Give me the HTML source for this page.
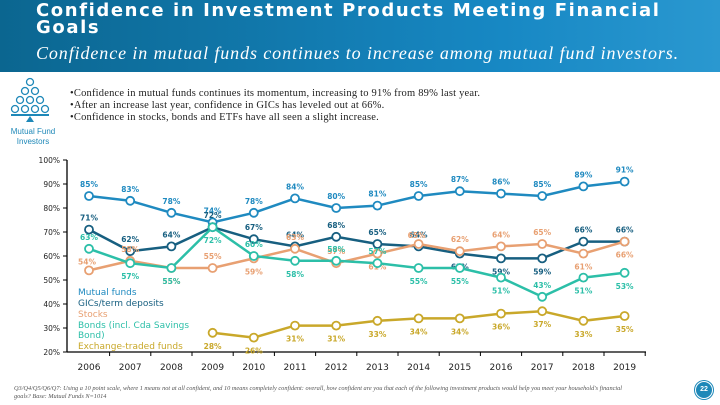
<!DOCTYPE html>
<html><head><meta charset="utf-8"><style>
body{margin:0;width:720px;height:405px;overflow:hidden;background:#fff;font-family:"Liberation Sans",sans-serif;position:relative}
#hdr{position:absolute;left:0;top:0;width:720px;height:72px;background:linear-gradient(90deg,#0b6690,#1788c4 70%,#2a98d0)}
#t1{position:absolute;left:36px;top:2px;color:#fff;font:bold 18px/17px "DejaVu Sans",sans-serif;letter-spacing:1.6px}
#t2{position:absolute;left:36px;top:43px;color:#fff;font:italic 18px "Liberation Serif",serif;letter-spacing:0.9px}
.b{position:absolute;left:70px;font:10.5px "Liberation Serif",serif;color:#222;letter-spacing:0.2px}
</style></head><body>
<div id="hdr"></div>
<div id="t1">Confidence in Investment Products Meeting Financial<br>Goals</div>
<div id="t2">Confidence in mutual funds continues to increase among mutual fund investors.</div>
<svg style="position:absolute;left:10px;top:77px" width="42" height="48">
<g fill="none" stroke="#1e88b8" stroke-width="1.3">
<circle cx="20" cy="5" r="3.5"/><circle cx="15" cy="14" r="3.5"/><circle cx="25" cy="14" r="3.5"/>
<circle cx="10" cy="23" r="3.5"/><circle cx="20" cy="23" r="3.5"/><circle cx="30" cy="23" r="3.5"/>
<circle cx="5" cy="32" r="3.5"/><circle cx="15" cy="32" r="3.5"/><circle cx="25" cy="32" r="3.5"/><circle cx="35" cy="32" r="3.5"/></g>
<rect x="1" y="37" width="38" height="2" fill="#1e88b8"/><polygon points="20,39 16,45 24,45" fill="#1e88b8"/></svg>
<div style="position:absolute;left:4px;top:127px;width:58px;text-align:center;font:8px/10px 'Liberation Sans',sans-serif;color:#1e88b8">Mutual Fund Investors</div>
<div class="b" style="top:88px">•Confidence in mutual funds continues its momentum, increasing to 91% from 89% last year.</div>
<div class="b" style="top:100px">•After an increase last year, confidence in GICs has leveled out at 66%.</div>
<div class="b" style="top:112px">•Confidence in stocks, bonds and ETFs have all seen a slight increase.</div>
<svg id="ch" width="720" height="405" style="position:absolute;left:0;top:0"></svg>
<div style="position:absolute;left:14px;top:385px;width:610px;font:italic 6.3px/8px 'Liberation Serif',serif;color:#555">Q3/Q4/Q5/Q6/Q7: Using a 10 point scale, where 1 means not at all confident, and 10 means completely confident: overall, how confident are you that each of the following investment products would help you meet your household's financial goals? Base: Mutual Funds N=1014</div>
<div style="position:absolute;left:695px;top:381px;width:16px;height:16px;border-radius:50%;background:#1e88b8;border:1.5px solid #fff;box-shadow:0 0 0 1px #1e88b8;color:#fff;font:bold 7px/16px 'Liberation Sans',sans-serif;text-align:center">22</div>
<script>
const years=[2006,2007,2008,2009,2010,2011,2012,2013,2014,2015,2016,2017,2018,2019];
const yTicks=[100,90,80,70,60,50,40,30,20];
const mutualFunds=[85,83,78,74,78,84,80,81,85,87,86,85,89,91];
const gics=[71,62,64,72,67,64,68,65,64,61,59,59,66,66];
const stocks=[54,58,55,55,59,63,57,61,65,62,64,65,61,66];
const bonds=[63,57,55,72,60,58,58,57,55,55,51,43,51,53];
const etfs=[null,null,null,28,26,31,31,33,34,34,36,37,33,35];
const NS="http://www.w3.org/2000/svg",svg=document.getElementById('ch');
const x0=89,dx=41.2,yTop=160,yBot=352;
const X=i=>x0+i*dx, Y=v=>yTop+(100-v)*(yBot-yTop)/80;
function el(t,a,p){const e=document.createElementNS(NS,t);for(const k in a)e.setAttribute(k,a[k]);(p||svg).appendChild(e);return e;}
el('line',{x1:67,y1:yTop,x2:67,y2:yBot,stroke:'#000','stroke-width':1.3});
el('line',{x1:67,y1:yBot,x2:646,y2:yBot,stroke:'#000','stroke-width':1.3});
yTicks.forEach(v=>{el('line',{x1:63,y1:Y(v),x2:67,y2:Y(v),stroke:'#000'});
const t=el('text',{x:60,y:Y(v)+3,'text-anchor':'end','font-size':7.5,'font-family':'DejaVu Sans',fill:'#222'});t.textContent=v+'%';
});
years.forEach((y,i)=>{el('line',{x1:X(i)+dx/2,y1:yBot,x2:X(i)+dx/2,y2:yBot+4,stroke:'#000'});
const t=el('text',{x:X(i),y:370,'text-anchor':'middle','font-size':9,'font-family':'DejaVu Sans',fill:'#222'});t.textContent=y;
});
const colors=['#1f8ac0','#175f80','#e8a072','#2cbfa8','#c9a82a'];
const place=[
 'aaaaaaaaaaaaaa',
 'aaaaaaaaabbbaa',
 'lababaablaaabb',
 'abbbabaabbbabb',
 '---bbbbbbbbbbb'];
const all=[mutualFunds,gics,stocks,bonds,etfs];
all.forEach((d,s)=>{const g=el('g',{});
let pts=d.map((v,i)=>v==null?null:X(i)+','+Y(v)).filter(p=>p);
el('polyline',{points:pts.join(' '),fill:'none',stroke:colors[s],'stroke-width':2.5},g);
d.forEach((v,i)=>{if(v==null)return;
const c=el('circle',{cx:X(i),cy:Y(v),r:4,fill:'#fff',stroke:colors[s],'stroke-width':1.8},g);

const p=place[s][i];let lx=X(i),ly=Y(v)-9;if(p==='b')ly=Y(v)+16;if(p==='l'){lx=X(i)-2;ly=Y(v)-6;}
const t=el('text',{x:lx,y:ly,'text-anchor':'middle','font-size':7.5,'font-weight':'bold','font-family':'DejaVu Sans',fill:colors[s]},g);t.textContent=v+'%';
});});
const lg=[["Mutual funds",295],["GICs/term deposits",306],["Stocks",317],["Bonds (incl. Cda Savings",328],["Bond)",338],["Exchange-traded funds",349]];
const lc=[0,1,2,3,3,4];
lg.forEach((l,i)=>{const t=el('text',{x:78,y:l[1],'font-size':9,'font-family':'DejaVu Sans',fill:colors[lc[i]]});t.textContent=l[0];
});
</script>
</body></html>
